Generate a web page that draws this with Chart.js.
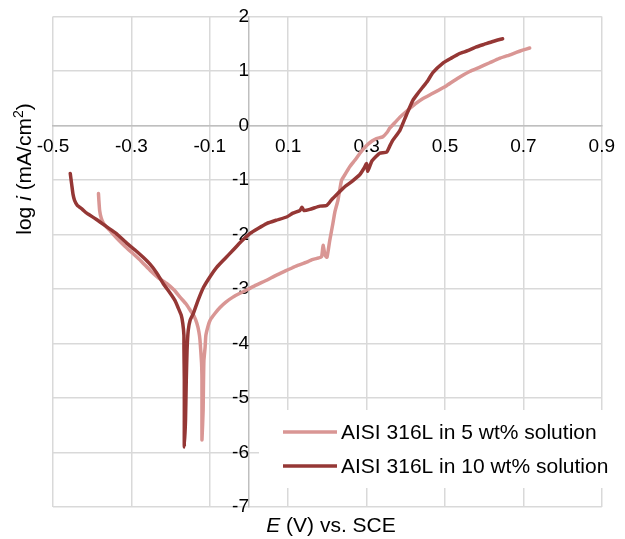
<!DOCTYPE html>
<html>
<head>
<meta charset="utf-8">
<script src="https://cdn.jsdelivr.net/npm/chart.js@4.4.1/dist/chart.umd.min.js"></script>
<style>
  html, body { margin: 0; padding: 0; background: #fff; }
  #wrap { width: 625px; height: 539px; }
</style>
</head>
<body>
<div id="wrap"><canvas id="c" width="625" height="539"></canvas></div>
<script>
// ---- Data ----
const seriesLabels = ['AISI 316L in 5 wt% solution', 'AISI 316L in 10 wt% solution'];

// 5 wt% solution: potential E (V vs SCE) and log i (mA/cm2)
const lightE = [-0.384,-0.383,-0.381,-0.377,-0.371,-0.357,-0.337,-0.316,-0.296,-0.275,-0.252,-0.232,-0.210,-0.191,-0.176,-0.160,-0.150,-0.140,-0.133,-0.128,-0.125,-0.121,-0.120,-0.120,-0.120,
  -0.117,-0.116,-0.115,-0.112,-0.110,-0.104,-0.099,-0.087,-0.074,-0.059,-0.041,-0.023,-0.006,0.018,0.045,0.069,0.096,0.120,0.147,0.161,0.173,0.185,0.189,0.194,0.199,0.206,0.214,0.219,0.227,0.236,0.245,0.257,0.270,0.283,0.300,0.313,0.325,0.341,0.352,0.359,0.372,0.385,0.410,0.425,0.443,0.469,0.504,0.538,0.563,0.589,0.614,0.639,0.660,0.682,0.698,0.716];
const lightLogI = [-1.25,-1.37,-1.56,-1.70,-1.80,-1.91,-2.07,-2.22,-2.35,-2.49,-2.66,-2.79,-2.90,-3.02,-3.15,-3.28,-3.39,-3.50,-3.63,-3.78,-3.94,-4.36,-4.67,-5.22,-5.77,
  -5.22,-4.67,-4.31,-4.07,-3.85,-3.67,-3.57,-3.45,-3.34,-3.24,-3.15,-3.08,-3.02,-2.93,-2.84,-2.75,-2.66,-2.58,-2.51,-2.46,-2.44,-2.41,-2.20,-2.38,-2.42,-2.11,-1.80,-1.59,-1.37,-1.01,-0.90,-0.76,-0.64,-0.51,-0.37,-0.29,-0.24,-0.21,-0.13,-0.05,0.05,0.15,0.31,0.40,0.49,0.59,0.73,0.89,0.99,1.07,1.15,1.23,1.28,1.34,1.38,1.42];

// 10 wt% solution
const darkE = [-0.456,-0.452,-0.449,-0.445,-0.438,-0.425,-0.414,-0.390,-0.363,-0.339,-0.312,-0.290,-0.270,-0.252,-0.235,-0.219,-0.201,-0.189,-0.181,-0.173,-0.169,-0.166,-0.166,-0.165,-0.165,-0.165,
  -0.162,-0.160,-0.158,-0.155,-0.150,-0.142,-0.130,-0.116,-0.099,-0.082,-0.061,-0.041,-0.020,0.003,0.023,0.045,0.069,0.096,0.112,0.130,0.135,0.140,0.155,0.181,0.198,0.211,0.222,0.232,0.245,0.262,0.283,0.293,0.300,0.303,0.313,0.324,0.334,0.351,0.359,0.367,0.385,0.402,0.418,0.431,0.443,0.456,0.469,0.494,0.515,0.538,0.558,0.580,0.601,0.622,0.647];
const darkLogI = [-0.88,-1.10,-1.26,-1.375,-1.466,-1.54,-1.61,-1.72,-1.86,-1.98,-2.16,-2.29,-2.42,-2.55,-2.71,-2.90,-3.08,-3.21,-3.34,-3.48,-3.63,-3.85,-4.07,-4.67,-5.41,-5.90,
  -5.41,-4.67,-4.12,-3.76,-3.57,-3.45,-3.21,-2.97,-2.77,-2.60,-2.44,-2.29,-2.13,-1.98,-1.89,-1.80,-1.74,-1.68,-1.61,-1.56,-1.50,-1.56,-1.54,-1.48,-1.47,-1.36,-1.28,-1.21,-1.12,-1.03,-0.90,-0.79,-0.70,-0.84,-0.66,-0.57,-0.51,-0.49,-0.38,-0.27,-0.09,0.20,0.46,0.59,0.70,0.82,0.97,1.14,1.23,1.32,1.37,1.44,1.49,1.54,1.59];

const xTicks = [-0.5,-0.3,-0.1,0.1,0.3,0.5,0.7,0.9];
const xTickLabels = ['-0.5','-0.3','-0.1','0.1','0.3','0.5','0.7','0.9'];
const yTicks = [-7,-6,-5,-4,-3,-2,-1,0,1,2];
const yTickLabels = ['-7','-6','-5','-4','-3','-2','-1','0','1','2'];

const lightColor = '#d99694';
const darkColor = '#953735';
const FONT = "'Liberation Sans', Arial, sans-serif";

function pts(xs, ys) { return xs.map((x, i) => ({ x: x, y: ys[i] })); }

// Custom legend + mixed-style axis titles
const decor = {
  id: 'decor',
  afterDraw(chart) {
    const ctx = chart.ctx;
    ctx.save();
    // ---- Legend ----
    ctx.fillStyle = '#ffffff';
    ctx.fillRect(259, 410, 346, 78);
    const entries = [0, 1].map(i => chart.data.datasets[i]);
    const ys = [432, 466];
    entries.forEach((ds, k) => {
      ctx.strokeStyle = ds.borderColor;
      ctx.lineWidth = 3.5;
      ctx.lineCap = 'butt';
      ctx.beginPath();
      ctx.moveTo(283, ys[k]);
      ctx.lineTo(337, ys[k]);
      ctx.stroke();
      ctx.fillStyle = '#000';
      ctx.font = '21px ' + FONT;
      ctx.textBaseline = 'middle';
      ctx.textAlign = 'left';
      ctx.fillText(ds.label, 341, ys[k] + 1);
    });

    // ---- X axis title: "E (V) vs. SCE" with italic E ----
    const xParts = [
      { t: 'E', f: 'italic 21px ' + FONT },
      { t: ' (V) vs. SCE', f: '21px ' + FONT }
    ];
    drawParts(ctx, xParts, 331, 532, false);

    // ---- Y axis title: "log i (mA/cm²)" rotated ----
    const yParts = [
      { t: 'log ', f: '21px ' + FONT },
      { t: 'i', f: 'italic 21px ' + FONT },
      { t: ' (mA/cm', f: '21px ' + FONT },
      { t: '2', f: '14px ' + FONT, sup: true },
      { t: ')', f: '21px ' + FONT }
    ];
    ctx.translate(31, 169);
    ctx.rotate(-Math.PI / 2);
    drawParts(ctx, yParts, 0, 0, true);
    ctx.restore();
  }
};

function drawParts(ctx, parts, cx, baseline, rotated) {
  let total = 0;
  parts.forEach(p => { ctx.font = p.f; p.w = ctx.measureText(p.t).width; total += p.w; });
  let x = cx - total / 2;
  ctx.fillStyle = '#000';
  ctx.textAlign = 'left';
  ctx.textBaseline = 'alphabetic';
  parts.forEach(p => {
    ctx.font = p.f;
    ctx.fillText(p.t, x, baseline - (p.sup ? 8 : 0));
    x += p.w;
  });
}

new Chart(document.getElementById('c'), {
  type: 'scatter',
  data: {
    datasets: [
      { label: seriesLabels[0], data: pts(lightE, lightLogI), borderColor: lightColor, backgroundColor: lightColor,
        showLine: true, pointRadius: 0, borderWidth: 3.5, tension: 0.15, order: 1, borderJoinStyle: 'round', borderCapStyle: 'round' },
      { label: seriesLabels[1], data: pts(darkE, darkLogI), borderColor: darkColor, backgroundColor: darkColor,
        showLine: true, pointRadius: 0, borderWidth: 3.5, tension: 0.15, order: 0, borderJoinStyle: 'round', borderCapStyle: 'round' }
    ]
  },
  options: {
    responsive: false,
    animation: false,
    devicePixelRatio: 1,
    layout: { padding: { left: 53, right: 23, top: 16, bottom: 32 } },
    plugins: { legend: { display: false }, tooltip: { enabled: false } },
    scales: {
      x: {
        type: 'linear',
        position: { y: 0 },
        min: -0.5, max: 0.9,
        afterBuildTicks: s => { s.ticks = xTicks.map(v => ({ value: v })); },
        ticks: {
          callback: (v, i) => xTickLabels[i],
          font: { family: FONT, size: 19 },
          color: '#000',
          padding: 10,
          maxRotation: 0,
          autoSkip: false
        },
        grid: { color: '#d9d9d9', lineWidth: 1.5, drawTicks: false },
        border: { display: true, color: '#bfbfbf', width: 1.5 }
      },
      y: {
        type: 'linear',
        position: { x: 0 },
        min: -7, max: 2,
        afterBuildTicks: s => { s.ticks = yTicks.map(v => ({ value: v })); },
        ticks: {
          callback: (v, i) => yTickLabels[i],
          font: { family: FONT, size: 19 },
          color: '#000',
          padding: 5,
          autoSkip: false
        },
        grid: { color: '#d9d9d9', lineWidth: 1.5, drawTicks: false },
        border: { display: true, color: '#bfbfbf', width: 1.5 }
      }
    }
  },
  plugins: [decor]
});
</script>
</body>
</html>
